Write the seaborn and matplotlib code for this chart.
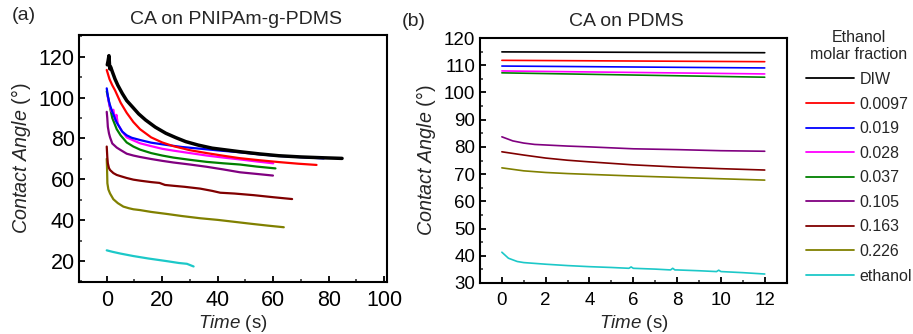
import numpy as np
import pandas as pd
import matplotlib
matplotlib.use("Agg")
import matplotlib.pyplot as plt
import seaborn as sns
from matplotlib.ticker import MultipleLocator

sns.set_theme(style="white")
plt.rcParams["font.family"] = ["Liberation Sans", "DejaVu Sans"]
plt.rcParams["mathtext.fontset"] = "custom"
plt.rcParams["mathtext.it"] = "Liberation Sans:italic"
plt.rcParams["mathtext.rm"] = "Liberation Sans"

labels = ["DIW", "0.0097", "0.019", "0.028", "0.037", "0.105", "0.163", "0.226", "ethanol"]
colors = ["#000000", "#ff0000", "#0000ff", "#ff00ff", "#008000",
          "#800080", "#800000", "#808000", "#1cc8c8"]

# ---- (a) contact angle on PNIPAm-g-PDMS ----
a_diw_t = [0.2, 0.5, 0.8, 1.1, 1.4, 2.0, 3.0, 4.0, 5.6, 7.2, 9.2, 11.5, 14, 17.5, 21.3, 25, 28.5, 33, 38, 47.8, 55, 62, 70, 78, 84.8]
a_diw_v = [116, 118, 120.5, 114, 115, 112.7, 109, 106, 102, 98.5, 95.5, 92, 89, 85.5, 82.5, 80.3, 78.4, 76.7, 75.2, 73.5, 72.4, 71.5, 70.9, 70.5, 70.2]
a_0097_t = [0, 1, 2, 3, 5, 7.2, 9.6, 12, 16, 20, 24, 30, 36, 42, 48, 55, 62, 69, 75.6]
a_0097_v = [113.5, 109, 106, 103.5, 97.5, 92.5, 88, 84.5, 80.5, 78, 76.2, 74.2, 72.8, 71.5, 70.3, 69.3, 68.4, 67.6, 67]
a_019_t = [0, 0.5, 1, 2, 3.5, 5.6, 7.2, 9, 12, 16, 21, 27, 34, 41, 48, 55, 62, 70, 78.2]
a_019_v = [104.5, 100, 97, 93, 88, 83.3, 81.5, 80.3, 79.2, 77.9, 76.9, 75.8, 74.9, 74, 73.2, 72.2, 71.4, 70.8, 70.2]
a_028_t = [0.3, 1, 1.8, 2.4, 3, 3.5, 4, 5.5, 7.2, 9.6, 12, 16, 20, 24, 30, 36, 42, 48, 54, 60]
a_028_v = [101, 96, 93, 94, 89, 91.5, 87, 83.5, 80.5, 79, 77.6, 76.2, 74.9, 74, 72.8, 71.6, 70.6, 69.7, 68.7, 67.8]
a_037_t = [0, 0.5, 1.2, 2, 3.6, 5, 7.2, 9.6, 12, 16, 20, 24, 30, 36, 42, 48, 54, 60.8]
a_037_v = [103, 100, 95, 90, 84.5, 81.5, 78, 76, 74.5, 72.8, 71.6, 70.6, 69.5, 68.5, 67.8, 67.2, 66.2, 65.3]
a_105_t = [0, 0.2, 0.4, 0.8, 1.2, 2, 3.6, 5, 7.2, 9.6, 12, 16, 20, 24, 30, 36, 42, 48, 54, 59.9]
a_105_v = [93, 90, 85.7, 82.5, 80.5, 77.5, 75.5, 74.3, 72.5, 71.6, 70.9, 69.9, 69, 68.2, 67.2, 66.1, 64.8, 63.4, 62.6, 61.8]
a_163_t = [0, 0.2, 0.4, 0.8, 1.2, 2.4, 3.6, 5, 7.2, 9.6, 12, 16, 19, 21, 24, 28, 33.7, 38, 40.9, 46, 53, 60, 66.8]
a_163_v = [76, 71, 67.8, 65.5, 64.5, 63, 62.1, 61.5, 60.6, 59.8, 59.3, 58.6, 58.2, 57.2, 56.8, 56.3, 55.4, 54.3, 53.4, 53, 52.2, 51.2, 50.3]
a_226_t = [0, 0.1, 0.24, 0.6, 1.2, 2.4, 4, 6, 8, 9.6, 12, 16, 21.7, 27, 33.7, 40, 45.7, 52, 58, 63.8]
a_226_v = [70, 66, 58, 55, 53, 50.2, 48.3, 46.6, 45.8, 45.3, 44.9, 44, 43, 42, 40.9, 40.1, 39.2, 38.2, 37.3, 36.5]
a_eth_t = [0, 2, 5, 9.6, 15, 21.7, 26, 28.9, 31.3]
a_eth_v = [25.2, 24.5, 23.6, 22.4, 21.2, 19.9, 19, 18.6, 17.3]

# ---- (b) contact angle on PDMS ----
b_diw_t = [0, 12]
b_diw_v = [114.9, 114.6]
b_0097_t = [0, 12]
b_0097_v = [111.8, 111.3]
b_019_t = [0, 12]
b_019_v = [109.7, 109.0]
b_028_t = [0, 12]
b_028_v = [107.9, 106.8]
b_037_t = [0, 12]
b_037_v = [107.2, 105.6]
b_105_t = [0, 0.5, 1, 1.5, 2, 3, 4, 6, 8, 10, 12]
b_105_v = [83.7, 82.2, 81.4, 80.9, 80.7, 80.3, 80.0, 79.3, 79.0, 78.6, 78.4]
b_163_t = [0, 1, 2, 3, 4, 6, 8, 10, 12]
b_163_v = [78.2, 77.0, 75.9, 75.1, 74.5, 73.4, 72.6, 72.0, 71.5]
b_226_t = [0, 1, 2, 3, 4, 6, 8, 10, 12]
b_226_v = [72.3, 71.2, 70.6, 70.2, 69.9, 69.3, 68.8, 68.3, 67.8]
b_eth_t = [0, 0.3, 0.7, 1, 2, 3, 4, 5, 5.8, 5.9, 6, 7, 7.7, 7.8, 7.9, 8, 9, 9.8, 9.9, 10, 11, 12]
b_eth_v = [41.3, 39.1, 37.9, 37.5, 36.9, 36.4, 36.0, 35.7, 35.4, 35.9, 35.4, 35.1, 34.8, 35.4, 34.8, 34.8, 34.5, 34.2, 34.7, 34.2, 33.8, 33.3]

a_series = [(a_diw_t, a_diw_v), (a_0097_t, a_0097_v), (a_019_t, a_019_v), (a_028_t, a_028_v),
            (a_037_t, a_037_v), (a_105_t, a_105_v), (a_163_t, a_163_v), (a_226_t, a_226_v),
            (a_eth_t, a_eth_v)]
b_series = [(b_diw_t, b_diw_v), (b_0097_t, b_0097_v), (b_019_t, b_019_v), (b_028_t, b_028_v),
            (b_037_t, b_037_v), (b_105_t, b_105_v), (b_163_t, b_163_v), (b_226_t, b_226_v),
            (b_eth_t, b_eth_v)]


def to_frame(series):
    rows = []
    for lab, (t, v) in zip(labels, series):
        for ti, vi in zip(t, v):
            rows.append({"Time": ti, "CA": vi, "fraction": lab})
    return pd.DataFrame(rows)


df_a = to_frame(a_series)
df_b = to_frame(b_series)
palette = dict(zip(labels, colors))

fig = plt.figure(figsize=(9.13, 3.34), dpi=100)
ax_a = fig.add_axes([0.0865, 0.1557, 0.3374, 0.7395])
ax_b = fig.add_axes([0.5257, 0.1527, 0.3359, 0.7335])

sns.lineplot(data=df_a, x="Time", y="CA", hue="fraction", hue_order=labels,
             palette=palette, sort=False, estimator=None, linewidth=1.6,
             legend=False, ax=ax_a)
sns.lineplot(data=df_b, x="Time", y="CA", hue="fraction", hue_order=labels,
             palette=palette, sort=False, estimator=None, linewidth=1.2,
             ax=ax_b)

# black curve sits on top, slightly heavier
for i, ln in enumerate(ax_a.lines):
    ln.set_zorder(10 - i)
ax_a.lines[0].set_linewidth(2.5)

ylabel = r"$\it{Contact\ Angle}$ (°)"
xlabel = r"$\it{Time}$ (s)"

ax_a.set_xlim(-10, 101)
ax_a.set_ylim(9.7, 130.6)
ax_a.xaxis.set_major_locator(MultipleLocator(20))
ax_a.xaxis.set_minor_locator(MultipleLocator(10))
ax_a.yaxis.set_major_locator(MultipleLocator(20))
ax_a.yaxis.set_minor_locator(MultipleLocator(10))
ax_a.set_xticks([0, 20, 40, 60, 80, 100])
ax_a.set_yticks([20, 40, 60, 80, 100, 120])

ax_b.set_xlim(-1, 13)
ax_b.set_ylim(30, 120)
ax_b.xaxis.set_major_locator(MultipleLocator(2))
ax_b.xaxis.set_minor_locator(MultipleLocator(1))
ax_b.yaxis.set_major_locator(MultipleLocator(10))
ax_b.yaxis.set_minor_locator(MultipleLocator(5))
ax_b.set_xticks([0, 2, 4, 6, 8, 10, 12])

for ax, fs, pad in [(ax_a, 15.5, 3), (ax_b, 13.5, 3.5)]:
    for sp in ax.spines.values():
        sp.set_linewidth(1.5)
        sp.set_color("black")
    ax.tick_params(which="major", direction="in", length=4, width=1.3,
                   labelsize=fs, pad=pad, colors="black", bottom=True, left=True)
    ax.tick_params(which="minor", direction="in", length=2.2, width=1.1,
                   bottom=True, left=True)
    ax.tick_params(axis="x", pad=pad + 3)
    ax.set_xlabel(xlabel, fontsize=13.5)
    ax.set_ylabel(ylabel, fontsize=14.2)
    ax.grid(False)

ax_a.xaxis.set_label_coords(0.5, -0.125)
ax_a.yaxis.set_label_coords(-0.15, 0.5)
ax_b.xaxis.set_label_coords(0.5, -0.122)
ax_b.yaxis.set_label_coords(-0.137, 0.5)

fig.text(236 / 913, 1 - 20 / 334, "CA on PNIPAm-g-PDMS", fontsize=14,
         ha="center", va="center")
fig.text(626 / 913, 1 - 21 / 334, "CA on PDMS", fontsize=14,
         ha="center", va="center")
fig.text(12 / 913, 1 - 16 / 334, "(a)", fontsize=14, ha="left", va="center")
fig.text(402 / 913, 1 - 21 / 334, "(b)", fontsize=14, ha="left", va="center")

sns.move_legend(ax_b, "upper left", bbox_to_anchor=(806 / 913, 1 - 30 / 334),
                bbox_transform=fig.transFigure, frameon=False,
                title="Ethanol\nmolar fraction", fontsize=11.5, title_fontsize=11.5,
                handlelength=3.0, handletextpad=0.35, labelspacing=0.6,
                borderpad=0, borderaxespad=0)
leg = ax_b.get_legend()
leg.get_title().set_multialignment("center")
for ln in leg.get_lines():
    ln.set_linewidth(1.3)

fig.savefig("out.png", dpi=100)
